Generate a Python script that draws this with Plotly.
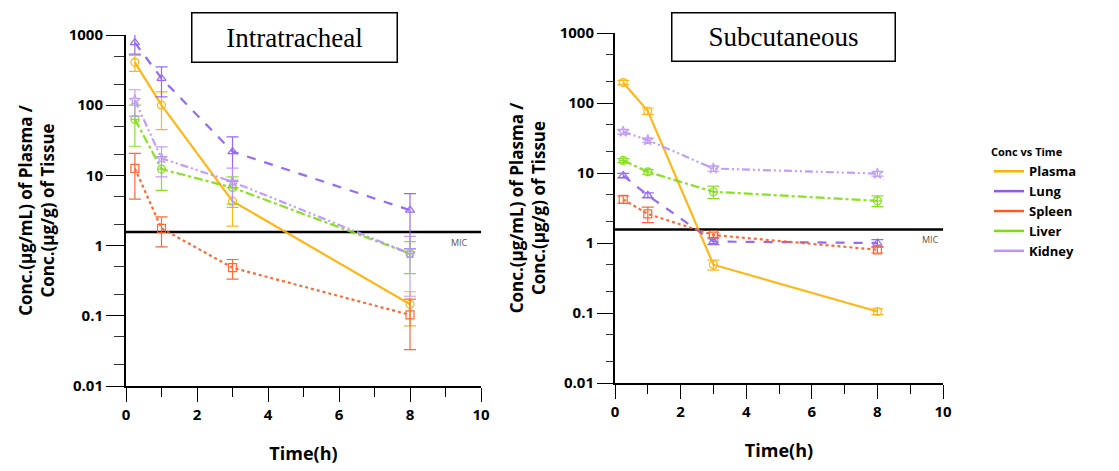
import plotly.graph_objects as go

# ---------------- data ----------------
time_h = [0.25, 1, 3, 8]
series_names = ["Plasma", "Lung", "Spleen", "Liver", "Kidney"]

# Intratracheal (mean, SD)
it_plasma = [408, 100, 4.3, 0.146]
it_plasma_sd = [105, 55, 2.4, 0.074]
it_lung = [780, 241, 21.8, 3.2]
it_lung_sd = [245, 110, 13.5, 2.3]
it_spleen = [12.6, 1.76, 0.484, 0.103]
it_spleen_sd = [8.0, 0.8, 0.15, 0.07]
it_liver = [63, 12.3, 6.7, 0.77]
it_liver_sd = [37, 6.2, 2.8, 0.37]
it_kidney = [118, 17.5, 8.1, 0.77]
it_kidney_sd = [48, 8.0, 4.6, 0.58]

# Subcutaneous (mean, SD)
sc_plasma = [196, 76.8, 0.49, 0.105]
sc_plasma_sd = [15, 8, 0.08, 0.01]
sc_lung = [9.2, 4.8, 1.05, 1.0]
sc_lung_sd = [0.7, 0.4, 0.1, 0.12]
sc_spleen = [4.2, 2.6, 1.3, 0.80]
sc_spleen_sd = [0.5, 0.65, 0.1, 0.08]
sc_liver = [15.1, 10.4, 5.4, 4.0]
sc_liver_sd = [1.0, 0.8, 1.1, 0.7]
sc_kidney = [38.9, 29.5, 11.6, 9.8]
sc_kidney_sd = [3.0, 2.0, 1.0, 0.8]

mic_value = 1.56
mic_x = [0, 10]

y_tickvals = [0.01, 0.1, 1, 10, 100, 1000]
y_ticktext = ["0.01", "0.1", "1", "10", "100", "1000"]
x_tickvals = [0, 2, 4, 6, 8, 10]

panel_titles = ["Intratracheal", "Subcutaneous"]
y_title = "Conc.(μg/mL) of Plasma /<br>Conc.(μg/g) of Tissue"
x_title = "Time(h)"
legend_title = "Conc vs Time"

# ---------------- styles ----------------
colors = {"Plasma": "#FFB000", "Lung": "#8A5CF5", "Spleen": "#FF5A1F",
          "Liver": "#7DDF0A", "Kidney": "#BC94FA"}
dashes = {"Plasma": "solid", "Lung": "dash", "Spleen": "dot",
          "Liver": "dashdot", "Kidney": "8px,3px,2px,3px,2px,3px"}
symbols = {"Plasma": "circle-open", "Lung": "triangle-up-open", "Spleen": "square-open",
           "Liver": "circle-cross-open", "Kidney": "star-open"}

FONT = "Open Sans"

fig = go.Figure()

panels = [
    ("x", "y", {"Plasma": (it_plasma, it_plasma_sd), "Lung": (it_lung, it_lung_sd),
                "Spleen": (it_spleen, it_spleen_sd), "Liver": (it_liver, it_liver_sd),
                "Kidney": (it_kidney, it_kidney_sd)}),
    ("x2", "y2", {"Plasma": (sc_plasma, sc_plasma_sd), "Lung": (sc_lung, sc_lung_sd),
                  "Spleen": (sc_spleen, sc_spleen_sd), "Liver": (sc_liver, sc_liver_sd),
                  "Kidney": (sc_kidney, sc_kidney_sd)}),
]

for xa, ya, data in panels:
    # MIC line
    fig.add_trace(go.Scatter(x=mic_x, y=[mic_value, mic_value], mode="lines",
                             line=dict(color="black", width=2.5), showlegend=False,
                             hoverinfo="skip", xaxis=xa, yaxis=ya))
    for name in series_names:
        vals, sd = data[name]
        c = colors[name]
        fig.add_trace(go.Scatter(
            x=time_h, y=vals, mode="lines+markers", name=name, showlegend=False,
            line=dict(color=c, width=2.2, dash=dashes[name]),
            marker=dict(symbol=symbols[name], size=8, color=c, line=dict(width=1.2, color=c)),
            error_y=dict(type="data", array=sd, visible=True, color=c, thickness=1.2, width=6),
            opacity=0.9, xaxis=xa, yaxis=ya))

# legend entries (line only)
for name in series_names:
    fig.add_trace(go.Scatter(x=[None], y=[None], mode="lines", name=name,
                             line=dict(color=colors[name], width=2.5), showlegend=True,
                             xaxis="x2", yaxis="y2"))

def yaxis_cfg(domain, anchor, ticklen, minorlen):
    return dict(type="log", range=[-2, 3], domain=domain, anchor=anchor, automargin=False,
                tickvals=y_tickvals, ticktext=y_ticktext,
                ticks="outside", ticklen=ticklen, tickwidth=1.3, tickcolor="black",
                minor=dict(ticks="outside", ticklen=minorlen, tickwidth=1, tickcolor="#333",
                           showgrid=False),
                showline=True, linecolor="black", linewidth=2, showgrid=False, zeroline=False,
                tickfont=dict(family=FONT, size=15, color="black", weight="bold"),
                title=dict(text=y_title, standoff=10,
                           font=dict(family=FONT, size=17, color="black", weight="bold")))

def xaxis_cfg(domain, anchor):
    return dict(range=[0, 10], domain=domain, anchor=anchor, automargin=False,
                tickvals=x_tickvals, ticks="outside", ticklen=14, tickwidth=1.3, tickcolor="black",
                minor=dict(dtick=1, tick0=0, ticks="outside", ticklen=9, tickwidth=1.3,
                           tickcolor="black", showgrid=False),
                showline=True, linecolor="black", linewidth=2, showgrid=False, zeroline=False,
                tickfont=dict(family=FONT, size=15, color="black", weight="bold"),
                title=dict(text=x_title, standoff=24,
                           font=dict(family=FONT, size=18, color="black", weight="bold")))

W, H = 1119, 471
fig.update_layout(
    width=W, height=H, margin=dict(l=0, r=0, t=0, b=0, autoexpand=False),
    paper_bgcolor="white", plot_bgcolor="white",
    xaxis=xaxis_cfg([126 / W, 481 / W], "y"),
    yaxis=yaxis_cfg([1 - 386 / H, 1 - 35 / H], "x", 18, 10),
    xaxis2=xaxis_cfg([615 / W, 943 / W], "y2"),
    yaxis2=yaxis_cfg([1 - 383 / H, 1 - 33 / H], "x2", 16, 7),
    legend=dict(x=989 / W, y=1 - 142 / H, xanchor="left", yanchor="top",
                title=dict(text=legend_title, font=dict(family=FONT, size=11, color="black", weight="bold")),
                font=dict(family=FONT, size=13, color="black", weight="bold"),
                itemwidth=30, tracegroupgap=0, bgcolor="rgba(0,0,0,0)"),
    showlegend=True,
)

# MIC labels
for xref, yref, xpos in [("x", "y", 9.7), ("x2", "y2", 9.95)]:
    fig.add_annotation(x=xpos, y=0.193, xref=xref, yref=yref, text="MIC", showarrow=False,
                       xanchor="right", yanchor="top", yshift=-2,
                       font=dict(family=FONT, size=9, color="#555"))

# panel title boxes
for title, cx, cy, w, h in [(panel_titles[0], 294, 38, 204, 48), (panel_titles[1], 784, 37.5, 222, 47)]:
    fig.add_annotation(x=cx / W, y=1 - cy / H, xref="paper", yref="paper", text=title,
                       showarrow=False, xanchor="center", yanchor="middle",
                       width=w, height=h, align="center", valign="middle",
                       bordercolor="black", borderwidth=1.5, bgcolor="white", borderpad=0,
                       font=dict(family="Liberation Serif", size=27, color="black"))

fig.write_html("out.html")
